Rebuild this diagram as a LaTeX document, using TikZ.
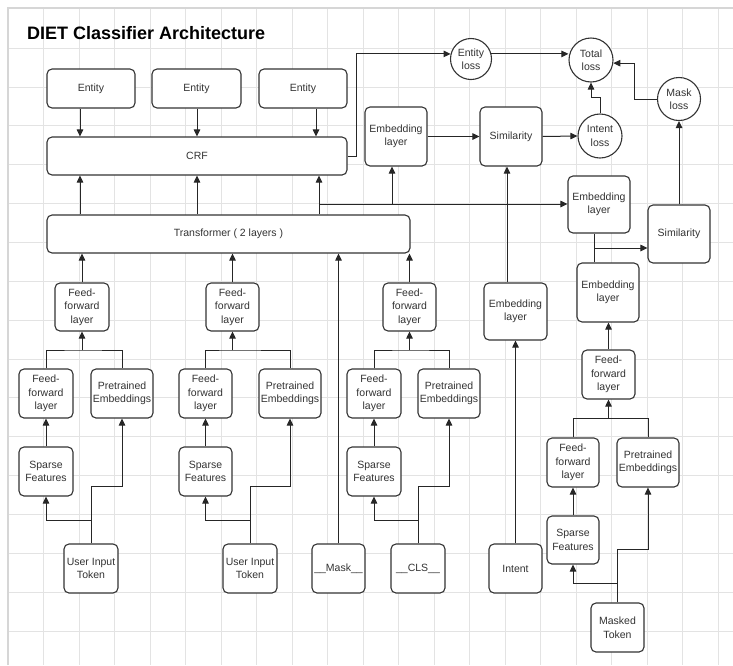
\documentclass[tikz,border=0pt]{standalone}
\usepackage{fontspec}
\setmainfont{Liberation Sans}
\usetikzlibrary{arrows.meta}
\definecolor{boxcol}{HTML}{333333}
\definecolor{linecol}{HTML}{262626}
\definecolor{txtcol}{HTML}{333333}
\definecolor{gridcol}{HTML}{E3E3E3}
\definecolor{bordcol}{HTML}{D6D6D6}
\tikzset{
  gridline/.style={draw=gridcol, line width=0.7pt},
  border/.style={draw=bordcol, line width=1.2pt},
  bx/.style={draw=boxcol, fill=white, line width=1.1pt, rounded corners=5pt,
    align=center, inner sep=1pt, text=txtcol,
    font=\fontsize{10.5}{13.5}\selectfont},
  circ/.style={draw=boxcol, fill=white, line width=1.1pt, circle,
    align=center, inner sep=0pt, text=txtcol,
    font=\fontsize{10.5}{13.5}\selectfont},
  ln/.style={draw=linecol, line width=1pt},
  arr/.style={draw=linecol, line width=1pt, -{Triangle[length=7pt,width=6.5pt]}},
}
\begin{document}
\begin{tikzpicture}[x=1pt,y=-1pt]
\useasboundingbox (0,0) rectangle (733,665);
% grid
\foreach \k in {1,...,20} \draw[gridline] ({8+35.5*\k},8) -- ({8+35.5*\k},665);
\foreach \k in {0,...,15} \draw[gridline] (8,{48+38.87*\k}) -- (733,{48+38.87*\k});
\draw[border] (8,665) -- (8,8) -- (733,8);
% title
\node[anchor=base west, inner sep=0pt, font=\fontsize{18}{20}\selectfont\bfseries] (title) at (27,39) {DIET Classifier Architecture};
% top
\node[bx, minimum width=88pt, minimum height=39pt] (ent1) at (91,88.5) {Entity};
\node[bx, minimum width=89pt, minimum height=39pt] (ent2) at (196.5,88.5) {Entity};
\node[bx, minimum width=88pt, minimum height=39pt] (ent3) at (303,88.5) {Entity};
\node[bx, minimum width=300pt, minimum height=38pt] (crf) at (197,156) {CRF};
\node[bx, minimum width=363pt, minimum height=38pt] (trans) at (228.5,234) {Transformer ( 2 layers )};
\node[bx, minimum width=62pt, minimum height=59pt] (embI) at (396,136.5) {Embedding\\layer};
\node[bx, minimum width=62pt, minimum height=59pt] (simI) at (511,136.5) {Similarity};
\node[circ, minimum size=41pt] (entloss) at (471,59) {Entity\\loss};
\node[circ, minimum size=44pt] (totloss) at (591,60) {Total\\loss};
\node[circ, minimum size=44pt] (intloss) at (600,136) {Intent\\loss};
\node[circ, minimum size=43pt] (maskloss) at (679,99) {Mask\\loss};
% right column
\node[bx, minimum width=62pt, minimum height=57pt] (embM1) at (599,204.5) {Embedding\\layer};
\node[bx, minimum width=62pt, minimum height=58pt] (simM) at (679,234) {Similarity};
\node[bx, minimum width=62pt, minimum height=59pt] (embM2) at (608,292.5) {Embedding\\layer};
\node[bx, minimum width=53pt, minimum height=49pt] (ffM2) at (608.5,374.5) {Feed-\\forward\\layer};
\node[bx, minimum width=52pt, minimum height=49pt] (ffM1) at (573,462.5) {Feed-\\forward\\layer};
\node[bx, minimum width=62pt, minimum height=49pt] (preM) at (648,462.5) {Pretrained\\Embeddings};
\node[bx, minimum width=52pt, minimum height=48pt] (spM) at (573,540) {Sparse\\Features};
\node[bx, minimum width=53pt, minimum height=49pt] (mtok) at (617.5,627.5) {Masked\\Token};
% intent column
\node[bx, minimum width=63pt, minimum height=57pt] (embInt) at (515.5,311.5) {Embedding\\layer};
\node[bx, minimum width=53pt, minimum height=49pt] (intent) at (515.5,568.5) {Intent};
% block 1
\node[bx, minimum width=54pt, minimum height=48pt] (ff1t) at (82,307) {Feed-\\forward\\layer};
\node[bx, minimum width=54pt, minimum height=49pt] (ff1) at (46,393.5) {Feed-\\forward\\layer};
\node[bx, minimum width=62pt, minimum height=49pt] (pre1) at (122,393.5) {Pretrained\\Embeddings};
\node[bx, minimum width=54pt, minimum height=49pt] (sp1) at (46,471.5) {Sparse\\Features};
\node[bx, minimum width=54pt, minimum height=49pt] (uit1) at (91,568.5) {User Input\\Token};
% block 2
\node[bx, minimum width=53pt, minimum height=48pt] (ff2t) at (232.5,307) {Feed-\\forward\\layer};
\node[bx, minimum width=53pt, minimum height=49pt] (ff2) at (205.5,393.5) {Feed-\\forward\\layer};
\node[bx, minimum width=62pt, minimum height=49pt] (pre2) at (290,393.5) {Pretrained\\Embeddings};
\node[bx, minimum width=53pt, minimum height=49pt] (sp2) at (205.5,471.5) {Sparse\\Features};
\node[bx, minimum width=54pt, minimum height=49pt] (uit2) at (250,568.5) {User Input\\Token};
% block 3
\node[bx, minimum width=53pt, minimum height=48pt] (ff3t) at (409.5,307) {Feed-\\forward\\layer};
\node[bx, minimum width=54pt, minimum height=49pt] (ff3) at (374,393.5) {Feed-\\forward\\layer};
\node[bx, minimum width=62pt, minimum height=49pt] (pre3) at (449,393.5) {Pretrained\\Embeddings};
\node[bx, minimum width=54pt, minimum height=49pt] (sp3) at (374,471.5) {Sparse\\Features};
\node[bx, minimum width=54pt, minimum height=49pt] (cls) at (418,568.5) {\_\_CLS\_\_};
\node[bx, minimum width=53pt, minimum height=49pt] (mask) at (338.5,568.5) {\_\_Mask\_\_};
% helper coordinates
\coordinate (c1) at (80,0);
\coordinate (c2) at (197,0);
\coordinate (c3) at (316,0);
\coordinate (c4) at (319,0);
\coordinate (tb) at (319,204);
\coordinate (tc) at (392,204);
\coordinate (ie) at (507,0);
\coordinate (em) at (594,0);
\coordinate (emb) at (594,248);
\coordinate (j1) at (82,350);
\coordinate (j2) at (232.5,350);
\coordinate (j3) at (409.5,350);
\coordinate (jM) at (608.5,418);
\coordinate (t1a) at (91,486);
\coordinate (t1b) at (91,520);
\coordinate (t2a) at (250,486);
\coordinate (t2b) at (250,520);
\coordinate (t3a) at (418,486);
\coordinate (t3b) at (418,520);
\coordinate (tma) at (617.5,549);
\coordinate (tmb) at (617.5,583);
% entity -> crf
\draw[arr] (ent1.south -| c1) -- (crf.north -| c1);
\draw[arr] (ent2.south -| c2) -- (crf.north -| c2);
\draw[arr] (ent3.south -| c3) -- (crf.north -| c3);
% transformer -> crf
\draw[arr] (trans.north -| c1) -- (crf.south -| c1);
\draw[arr] (trans.north -| c2) -- (crf.south -| c2);
\draw[arr] (trans.north -| c4) -- (crf.south -| c4);
\draw[arr] (tb) -- (tb -| embM1.west);
\draw[arr] (tc) -- (tc |- embI.south);
% crf -> entity loss -> total loss
\draw[arr] (crf.east) -- ++(9,0) |- (entloss.166);
\draw[arr] (entloss.14) -- (entloss.14 -| totloss.west);
\draw[arr] (intloss.north) -- ++(0,-16) -| (totloss.south);
\draw[arr] (maskloss.west) -- ++(-22,0) |- (totloss.-8);
% intent path
\draw[arr] (embI.east) -- (simI.west);
\draw[arr] (simI.east) -- (intloss.west);
\draw[arr] (embInt.north -| ie) -- (simI.south -| ie);
\draw[arr] (intent.north) -- (embInt.south);
% mask path
\draw[arr] (simM.north) -- (maskloss.south);
\draw[ln] (embM2.north -| em) -- (embM1.south -| em);
\draw[arr] (emb) -- (emb -| simM.west);
\draw[arr] (ffM2.north) -- (ffM2.north |- embM2.south);
\draw[ln] (ffM1.north) |- (jM) -| (preM.north);
\draw[arr] (jM) -- (ffM2.south);
\draw[arr] (spM.north) -- (ffM1.south);
\draw[arr] (mtok.north) -- (tma) -| (preM.south);
\draw[arr] (tmb) -| (spM.south);
% block 1
\draw[arr] (ff1t.north) -- (ff1t.north |- trans.south);
\draw[ln] (ff1.north) |- (j1) -| (pre1.north);
\draw[arr] (j1) -- (ff1t.south);
\draw[arr] (sp1.north) -- (ff1.south);
\draw[arr] (uit1.north) -- (t1a) -| (pre1.south);
\draw[arr] (t1b) -| (sp1.south);
% block 2
\draw[arr] (ff2t.north) -- (ff2t.north |- trans.south);
\draw[ln] (ff2.north) |- (j2) -| (pre2.north);
\draw[arr] (j2) -- (ff2t.south);
\draw[arr] (sp2.north) -- (ff2.south);
\draw[arr] (uit2.north) -- (t2a) -| (pre2.south);
\draw[arr] (t2b) -| (sp2.south);
% block 3
\draw[arr] (ff3t.north) -- (ff3t.north |- trans.south);
\draw[ln] (ff3.north) |- (j3) -| (pre3.north);
\draw[arr] (j3) -- (ff3t.south);
\draw[arr] (sp3.north) -- (ff3.south);
\draw[arr] (cls.north) -- (t3a) -| (pre3.south);
\draw[arr] (t3b) -| (sp3.south);
\draw[arr] (mask.north) -- (mask.north |- trans.south);
\end{tikzpicture}
\end{document}
